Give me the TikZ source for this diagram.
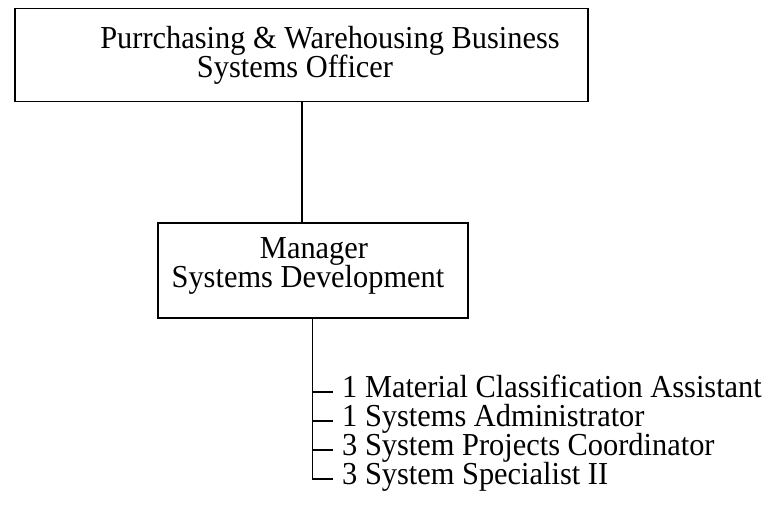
\documentclass[tikz,border=0pt]{standalone}
\usepackage{fontspec}
\setmainfont{Liberation Serif}[FakeStretch=0.95]
\begin{document}
\begin{tikzpicture}[x=1pt,y=-1pt,
  box/.style={draw,line width=1.6pt,inner sep=0pt},
  lbl/.style={anchor=base,inner sep=0pt,font=\fontsize{32}{29}\selectfont},
  item/.style={anchor=base west,inner sep=0pt,font=\fontsize{32}{29}\selectfont},
  conn/.style={line width=1.6pt}]
\useasboundingbox (0,0) rectangle (775,509);
% top box
\node[box,minimum width=573pt,minimum height=93pt] (top) at (301.5,55) {};
\node[lbl] (t1) at (330,48) {Purrchasing \& Warehousing Business};
\node[lbl] (t2) at (295,77.5) {Systems Officer};
% manager box
\node[box,minimum width=310pt,minimum height=95pt] (mgr) at (313,270.5) {};
\node[lbl] (m1) at (314,258) {Manager};
\node[lbl] (m2) at (308,287.5) {Systems Development};
% connector
\coordinate (c1) at (302,0);
\draw[conn] (top.south -| c1) -- (mgr.north -| c1);
% list
\coordinate (trunk) at (312.5,0);
\node[item] (i1) at (342,397) {1 Material Classification Assistant};
\node[item] (i2) at (342,426) {1 Systems Administrator};
\node[item] (i3) at (342,455) {3 System Projects Coordinator};
\node[item] (i4) at (342,484) {3 System Specialist II};
\coordinate (k1) at (333,392);
\coordinate (k2) at (333,421);
\coordinate (k3) at (333,450);
\coordinate (k4) at (333,479);
\draw[conn] (mgr.south -| trunk) |- (k4);
\draw[conn] (trunk |- k1) -- (k1);
\draw[conn] (trunk |- k2) -- (k2);
\draw[conn] (trunk |- k3) -- (k3);
\end{tikzpicture}
\end{document}
